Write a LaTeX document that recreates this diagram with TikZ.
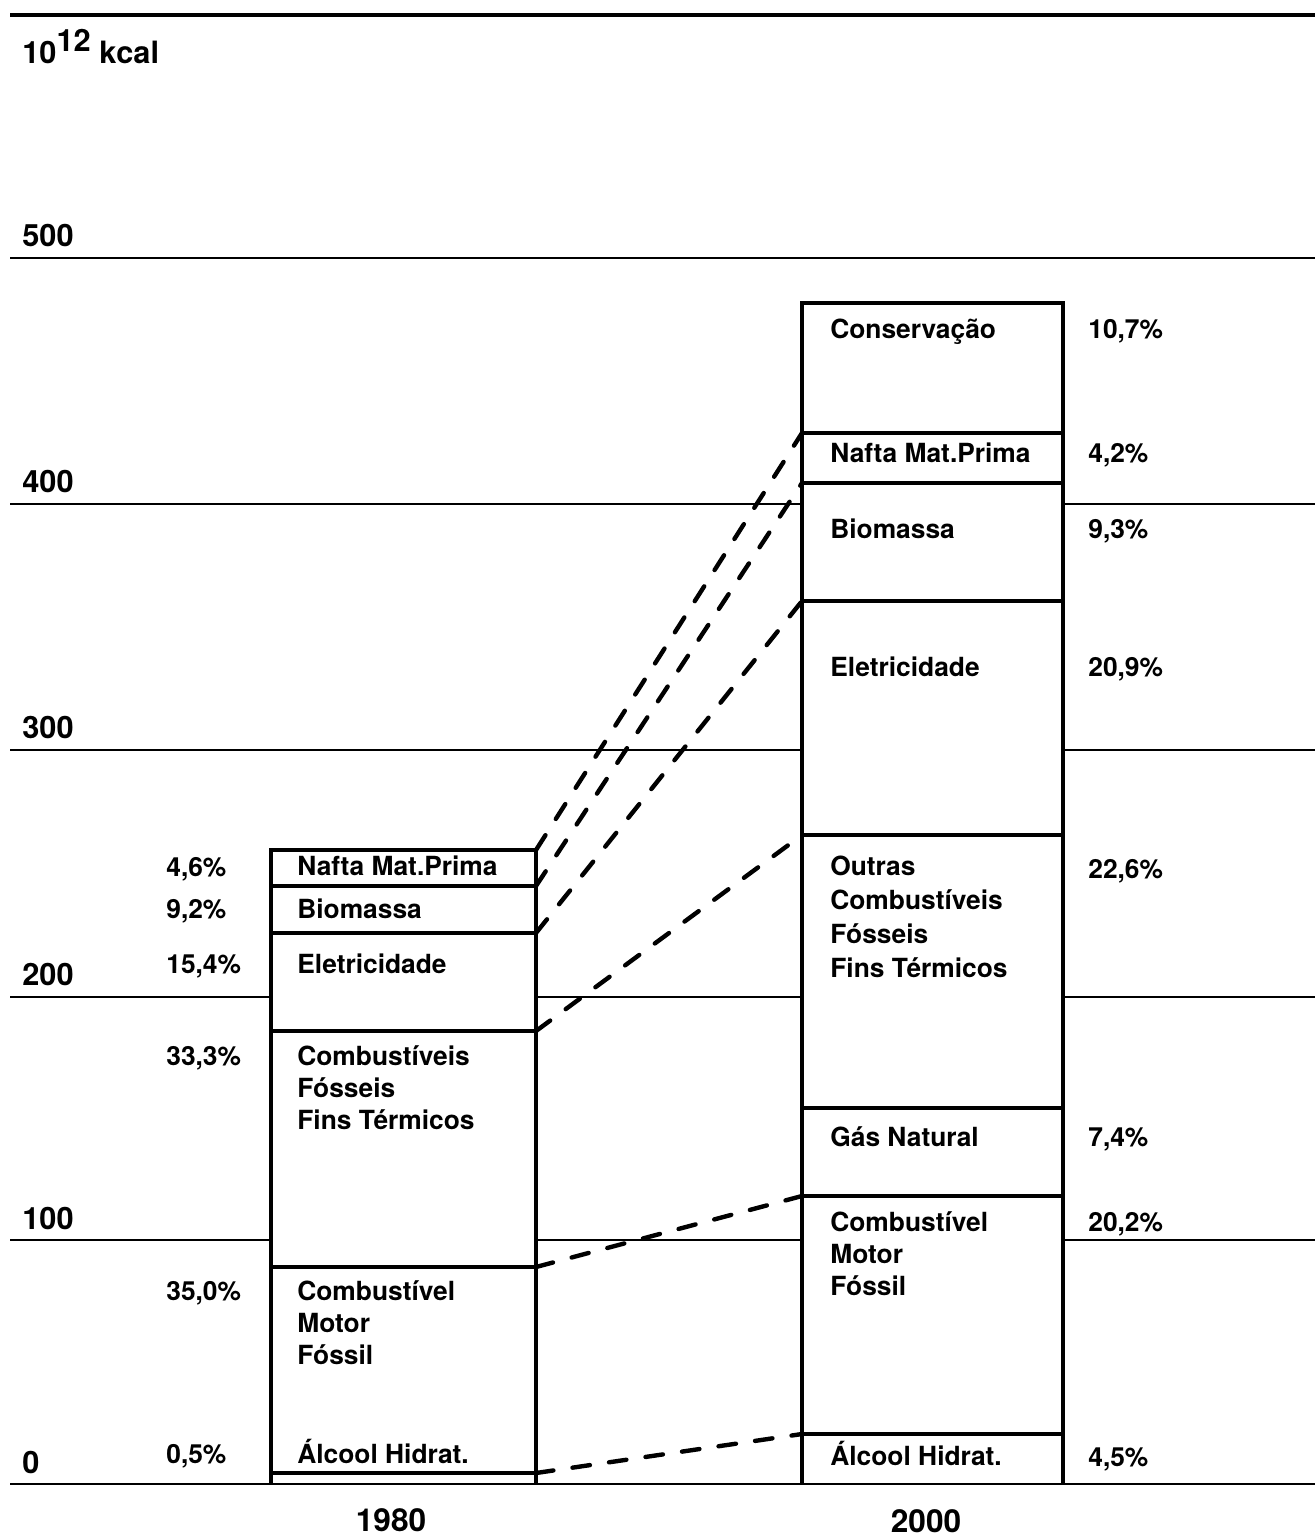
\documentclass[tikz,border=0pt]{standalone}
\usepackage{fontspec}
\setmainfont{TeX Gyre Heros}
\begin{document}
\begin{tikzpicture}[x=0.02cm,y=-0.02cm,
  grid/.style={line width=1.3pt},
  topline/.style={line width=2.2pt},
  barline/.style={line width=2.3pt},
  conn/.style={line width=2.5pt, dash pattern=on 10pt off 11pt, line cap=round},
  lab/.style={anchor=base west, inner sep=0pt, font=\bfseries\fontsize{15}{17}\selectfont},
  axl/.style={anchor=base west, inner sep=0pt, font=\bfseries\fontsize{17.5}{20}\selectfont},
  yr/.style={anchor=base, inner sep=0pt, font=\bfseries\fontsize{18}{20}\selectfont}]
\useasboundingbox (0,0) rectangle (1315,1538);
% grid
\draw[topline] (10,15) -- (1315,15);
\foreach \yy in {258,504,750,997,1240,1484} \draw[grid] (10,\yy) -- (1315,\yy);
% bar 1980
\fill[white] (271,850) rectangle (536,1483);
\draw[barline] (271,1484) -- (271,850) -- (536,850) -- (536,1484);
\foreach \yy in {886,933,1031,1267,1473} \draw[barline] (271,\yy) -- (536,\yy);
% bar 2000
\fill[white] (802,303) rectangle (1063,1483);
\draw[barline] (802,1484) -- (802,303) -- (1063,303) -- (1063,1484);
\foreach \yy in {433,483,601,835,1108,1196,1434} \draw[barline] (802,\yy) -- (1063,\yy);
% connector end points
\coordinate (n80) at (536,850);
\coordinate (b80) at (536,886);
\coordinate (e80) at (536,933);
\coordinate (c80) at (536,1031);
\coordinate (m80) at (536,1267);
\coordinate (a80) at (536,1473);
\coordinate (n00) at (802,433);
\coordinate (b00) at (802,483);
\coordinate (e00) at (802,601);
\coordinate (c00) at (802,835);
\coordinate (m00) at (802,1196);
\coordinate (a00) at (802,1434);
\draw[conn] (n80) -- (n00);
\draw[conn] (b80) -- (b00);
\draw[conn] (e80) -- (e00);
\draw[conn] (c80) -- (c00);
\draw[conn] (m80) -- (m00);
\draw[conn] (a80) -- (a00);
% axis labels
\node[axl] (unit) at (22,63) {10\raisebox{6.3pt}{12} kcal};
\node[axl] (l500) at (22,246) {500};
\node[axl] (l400) at (22,492) {400};
\node[axl] (l300) at (22,738) {300};
\node[axl] (l200) at (22,985) {200};
\node[axl] (l100) at (22,1229) {100};
\node[axl] (l0) at (22,1473) {0};
% 1980 percentages
\node[lab] (p801) at (166,876) {4,6\%};
\node[lab] (p802) at (166,918) {9,2\%};
\node[lab] (p803) at (166,973) {15,4\%};
\node[lab] (p804) at (166,1065) {33,3\%};
\node[lab] (p805) at (166,1300) {35,0\%};
\node[lab] (p806) at (166,1463) {0,5\%};
% 1980 labels
\node[lab] (s801) at (297,875) {Nafta Mat.Prima};
\node[lab] (s802) at (297,918) {Biomassa};
\node[lab] (s803) at (297,973) {Eletricidade};
\node[lab] (s804) at (297,1065) {Combustíveis};
\node[lab] (s805) at (297,1097) {Fósseis};
\node[lab] (s806) at (297,1129) {Fins Térmicos};
\node[lab] (s807) at (297,1300) {Combustível};
\node[lab] (s808) at (297,1332) {Motor};
\node[lab] (s809) at (297,1364) {Fóssil};
\node[lab] (s810) at (297,1463) {Álcool Hidrat.};
% 2000 labels
\node[lab] (s001) at (830,338) {Conservação};
\node[lab] (s002) at (830,462) {Nafta Mat.Prima};
\node[lab] (s003) at (830,538) {Biomassa};
\node[lab] (s004) at (830,676) {Eletricidade};
\node[lab] (s005) at (830,875) {Outras};
\node[lab] (s006) at (830,909) {Combustíveis};
\node[lab] (s007) at (830,943) {Fósseis};
\node[lab] (s008) at (830,977) {Fins Térmicos};
\node[lab] (s009) at (830,1146) {Gás Natural};
\node[lab] (s010) at (830,1231) {Combustível};
\node[lab] (s011) at (830,1263) {Motor};
\node[lab] (s012) at (830,1295) {Fóssil};
\node[lab] (s013) at (830,1465) {Álcool Hidrat.};
% 2000 percentages
\node[lab] (p001) at (1088,338) {10,7\%};
\node[lab] (p002) at (1088,462) {4,2\%};
\node[lab] (p003) at (1088,538) {9,3\%};
\node[lab] (p004) at (1088,676) {20,9\%};
\node[lab] (p005) at (1088,878) {22,6\%};
\node[lab] (p006) at (1088,1146) {7,4\%};
\node[lab] (p007) at (1088,1231) {20,2\%};
\node[lab] (p008) at (1088,1466) {4,5\%};
% years
\node[yr] (y1980) at (391,1531) {1980};
\node[yr] (y2000) at (926,1532) {2000};
\end{tikzpicture}
\end{document}
